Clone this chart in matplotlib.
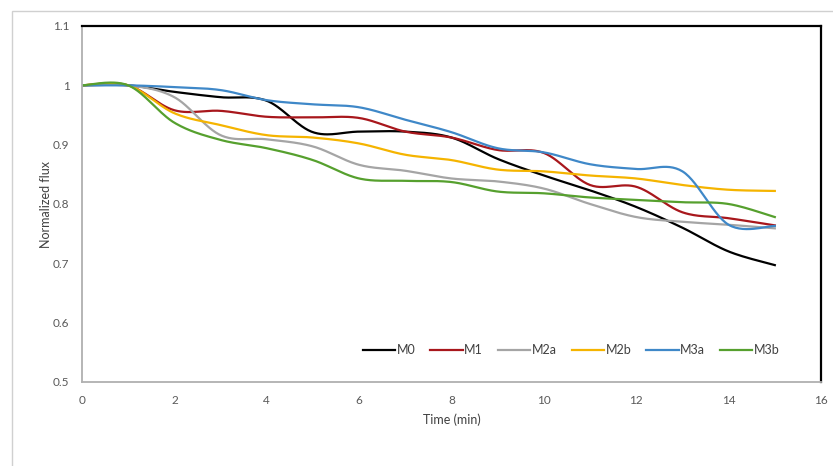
import numpy as np
import matplotlib.pyplot as plt
from matplotlib.patches import Rectangle

# -----------------------------
# Data
# -----------------------------
time_min = np.arange(0, 16)

m0 = [1.0, 1.0, 0.989, 0.980, 0.974, 0.921, 0.922, 0.922, 0.912, 0.876, 0.848, 0.823, 0.795, 0.760, 0.720, 0.697]
m1 = [1.0, 1.0, 0.958, 0.957, 0.947, 0.946, 0.945, 0.922, 0.912, 0.891, 0.886, 0.832, 0.829, 0.786, 0.776, 0.764]
m2a = [1.0, 1.0, 0.980, 0.916, 0.909, 0.897, 0.866, 0.856, 0.843, 0.838, 0.826, 0.800, 0.778, 0.770, 0.765, 0.759]
m2b = [1.0, 1.0, 0.953, 0.933, 0.916, 0.912, 0.902, 0.883, 0.874, 0.858, 0.855, 0.848, 0.843, 0.832, 0.824, 0.822]
m3a = [1.0, 1.0, 0.997, 0.992, 0.975, 0.968, 0.963, 0.942, 0.921, 0.894, 0.887, 0.867, 0.859, 0.855, 0.765, 0.763]
m3b = [1.0, 1.0, 0.937, 0.908, 0.894, 0.874, 0.843, 0.839, 0.837, 0.821, 0.818, 0.811, 0.807, 0.803, 0.800, 0.778]

labels = ["M0", "M1", "M2a", "M2b", "M3a", "M3b"]
series = [m0, m1, m2a, m2b, m3a, m3b]
colors = ["#000000", "#A8171C", "#A5A5A5", "#F5B400", "#3F88C8", "#56A02E"]


# -----------------------------
# Helper: Excel-like smoothed line
# -----------------------------
def smooth_line(x, y, n=30):
    x = np.asarray(x, dtype=float)
    y = np.asarray(y, dtype=float)
    px = np.concatenate([[x[0]], x, [x[-1]]])
    py = np.concatenate([[y[0]], y, [y[-1]]])
    s = np.linspace(0, 1, n)
    xs, ys = [], []
    for i in range(1, len(px) - 2):
        c1x = px[i] + (px[i + 1] - px[i - 1]) / 6
        c1y = py[i] + (py[i + 1] - py[i - 1]) / 6
        c2x = px[i + 1] - (px[i + 2] - px[i]) / 6
        c2y = py[i + 1] - (py[i + 2] - py[i]) / 6
        bx = ((1 - s) ** 3 * px[i] + 3 * (1 - s) ** 2 * s * c1x
              + 3 * (1 - s) * s ** 2 * c2x + s ** 3 * px[i + 1])
        by = ((1 - s) ** 3 * py[i] + 3 * (1 - s) ** 2 * s * c1y
              + 3 * (1 - s) * s ** 2 * c2y + s ** 3 * py[i + 1])
        xs.extend(bx)
        ys.extend(by)
    return np.array(xs), np.array(ys)


# -----------------------------
# Plot
# -----------------------------
plt.rcParams['font.family'] = ['Lato', 'DejaVu Sans']

W, H = 833, 466
fig = plt.figure(figsize=(W / 100, H / 100), dpi=100)

# outer chart border
fig.patches.append(Rectangle((12 / W, -0.1), 1.2, 1 - 11 / H + 0.1,
                             transform=fig.transFigure, fill=False,
                             edgecolor="#D0D0D0", linewidth=1.0))

ax = fig.add_axes([82 / W, 1 - 382 / H, (821 - 82) / W, (382 - 26) / H])

for lab, vals, col in zip(labels, series, colors):
    xs, ys = smooth_line(time_min, vals)
    ax.plot(xs, ys, color=col, linewidth=1.6, label=lab)

ax.set_xlim(0, 16)
ax.set_ylim(0.5, 1.1)
ax.set_xticks(np.arange(0, 17, 2))
ax.set_yticks([0.5, 0.6, 0.7, 0.8, 0.9, 1.0, 1.1])
ax.set_yticklabels(["0.5", "0.6", "0.7", "0.8", "0.9", "1", "1.1"])
ax.tick_params(length=0, labelsize=8.5, labelcolor="#595959")
ax.tick_params(axis="x", pad=9)
ax.tick_params(axis="y", pad=9)

ax.spines["top"].set_color("#000000")
ax.spines["right"].set_color("#000000")
ax.spines["top"].set_linewidth(1.6)
ax.spines["right"].set_linewidth(1.6)
ax.spines["left"].set_color("#B0B0B0")
ax.spines["bottom"].set_color("#B0B0B0")
ax.spines["left"].set_linewidth(1.3)
ax.spines["bottom"].set_linewidth(1.3)

ax.set_xlabel("Time (min)", fontsize=9, color="#404040", labelpad=6)
ax.set_ylabel("Normalized flux", fontsize=9, color="#404040", labelpad=1)

ax.legend(loc="center", bbox_to_anchor=(0.662, 0.09), ncol=6, frameon=False,
          fontsize=9, handlelength=2.6, handletextpad=0.1, columnspacing=1.2,
          labelcolor="#404040")

plt.savefig("out.png", dpi=100)
